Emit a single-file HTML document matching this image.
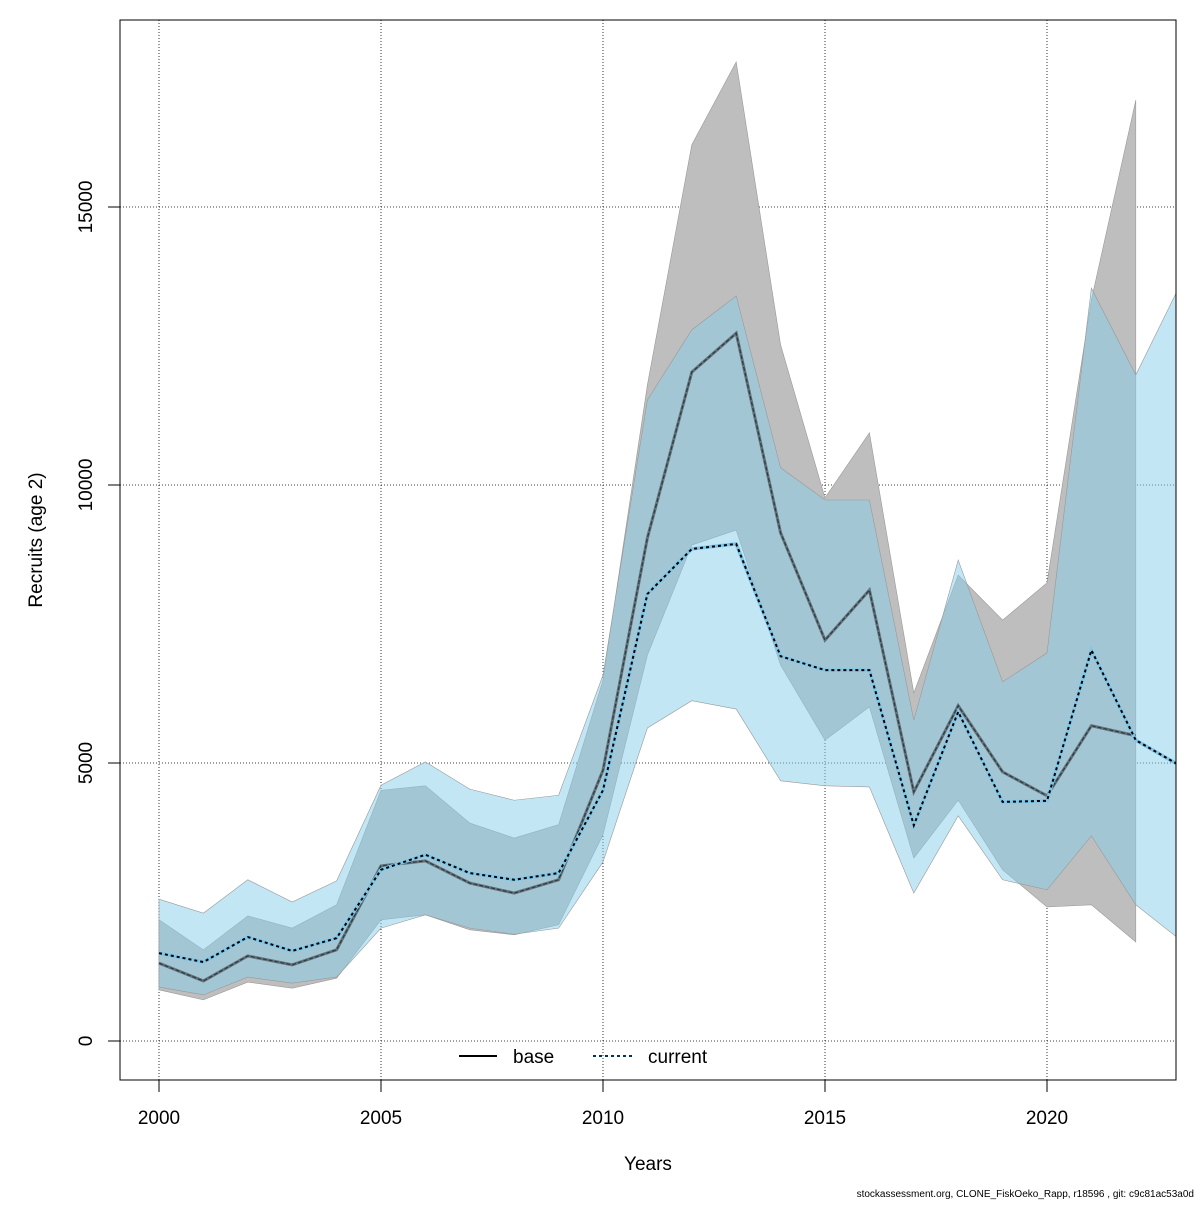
<!DOCTYPE html>
<html><head><meta charset="utf-8"><style>
html,body{margin:0;padding:0;background:#fff;}
svg text{font-family:"Liberation Sans",sans-serif;}
</style></head><body>
<svg id="chart" width="1200" height="1200" viewBox="0 0 1200 1200" xmlns="http://www.w3.org/2000/svg">
<defs><clipPath id="clip"><rect x="120" y="20" width="1056" height="1060"/></clipPath></defs>
<g id="grid"></g>
<g id="bands" clip-path="url(#clip)"></g>
<rect x="120" y="20" width="1056" height="1060" fill="none" stroke="#000" stroke-width="1"/>
<g id="axes"></g>
<text x="42" y="540" font-size="19" text-anchor="middle" transform="rotate(-90 42 540)">Recruits (age 2)</text>
<text x="648" y="1170" font-size="19" text-anchor="middle">Years</text>
<g>
<line x1="459" y1="1056" x2="497" y2="1056" stroke="#000" stroke-width="2"/>
<text x="513" y="1063" font-size="19">base</text>
<line x1="593" y1="1056" x2="633" y2="1056" stroke="#00325a" stroke-width="2" stroke-dasharray="3,3"/>
<text x="648" y="1063" font-size="19">current</text>
</g>
<text x="1194" y="1197" font-size="10" text-anchor="end">stockassessment.org, CLONE_FiskOeko_Rapp, r18596 , git: c9c81ac53a0d</text>
</svg>
<script>
const baseYears=[2000,2001,2002,2003,2004,2005,2006,2007,2008,2009,2010,2011,2012,2013,2014,2015,2016,2017,2018,2019,2020,2021,2022];
const baseMean=[1400,1080,1530,1370,1640,3150,3240,2840,2660,2900,4870,9050,12030,12730,9140,7210,8110,4480,6030,4840,4410,5670,5490];
const baseUpper=[2180,1640,2250,2030,2450,4510,4590,3920,3650,3890,6490,11800,16120,17610,12520,9770,10940,6260,8380,7570,8240,13330,16920];
const baseLower=[920,740,1060,950,1130,2180,2270,2000,1910,2090,3710,6940,8920,9190,6760,5410,6010,3290,4330,3080,2410,2450,1780];
const curYears=[2000,2001,2002,2003,2004,2005,2006,2007,2008,2009,2010,2011,2012,2013,2014,2015,2016,2017,2018,2019,2020,2021,2022,2023];
const curMean=[1580,1420,1870,1620,1850,3080,3350,3020,2900,3020,4510,8040,8850,8940,6920,6670,6670,3880,5920,4300,4320,7030,5410,4950];
const curUpper=[2550,2300,2900,2500,2880,4600,5020,4530,4330,4420,6580,11530,12790,13400,10310,9730,9730,5770,8650,6460,6980,13540,11980,13600];
const curLower=[970,830,1150,1040,1150,2030,2270,2030,1920,2030,3220,5630,6120,5970,4680,4590,4570,2660,4050,2900,2720,3690,2450,1820];
const xTicks=[2000,2005,2010,2015,2020];
const yTicks=[0,5000,10000,15000];

const NS="http://www.w3.org/2000/svg";
const X=y=>159+(y-2000)*44.4;
const Y=v=>1041-v*0.0556;
function mk(tag,attrs,parent){const e=document.createElementNS(NS,tag);for(const k in attrs)e.setAttribute(k,attrs[k]);parent.appendChild(e);return e;}
const grid=document.getElementById('grid'),bands=document.getElementById('bands'),axes=document.getElementById('axes');
xTicks.forEach(t=>{
  const l=mk('line',{x1:X(t),y1:20,x2:X(t),y2:1080,stroke:'#000','stroke-width':0.8,'stroke-dasharray':'1,2'},grid);
  
  
  const k=mk('line',{x1:X(t),y1:1080,x2:X(t),y2:1092,stroke:'#000'},axes);
  
  
  const tx=mk('text',{x:X(t),y:1124,'font-size':19,'text-anchor':'middle'},axes);tx.textContent=t;
  
  
});
yTicks.forEach(t=>{
  const l=mk('line',{x1:120,y1:Y(t),x2:1176,y2:Y(t),stroke:'#000','stroke-width':0.8,'stroke-dasharray':'1,2'},grid);
  
  
  const k=mk('line',{x1:108,y1:Y(t),x2:120,y2:Y(t),stroke:'#000'},axes);
  
  
  const tx=mk('text',{x:92,y:Y(t),'font-size':19,'text-anchor':'middle',transform:`rotate(-90 92 ${Y(t)})`},axes);tx.textContent=t;
  
  
});
function band(yrs,up,lo,fill){
  const pts=yrs.map((y,i)=>X(y)+','+Y(up[i])).concat(yrs.map((y,i)=>X(y)+','+Y(lo[i])).reverse());
  return mk('polygon',{points:pts.join(' '),fill:fill,stroke:'#999','stroke-width':0.6},bands);
}
function line(yrs,vals,attrs){
  return mk('polyline',Object.assign({points:yrs.map((y,i)=>X(y)+','+Y(vals[i])).join(' '),fill:'none'},attrs),bands);
}
const b1=band(baseYears,baseUpper,baseLower,'#bebebe');


const b2=band(curYears,curUpper,curLower,'rgba(135,206,235,0.5)');


const l1=line(baseYears,baseMean,{stroke:'#62747d','stroke-width':3});


const l1b=line(baseYears,baseMean,{stroke:'#2f3a40','stroke-width':1.2,'stroke-dasharray':'4,2'});


const l2h=line(curYears,curMean,{stroke:'#7fc6e8','stroke-width':3.5});


const l2=line(curYears,curMean,{stroke:'#000','stroke-width':2,'stroke-dasharray':'3,3'});


</script>
</body></html>
